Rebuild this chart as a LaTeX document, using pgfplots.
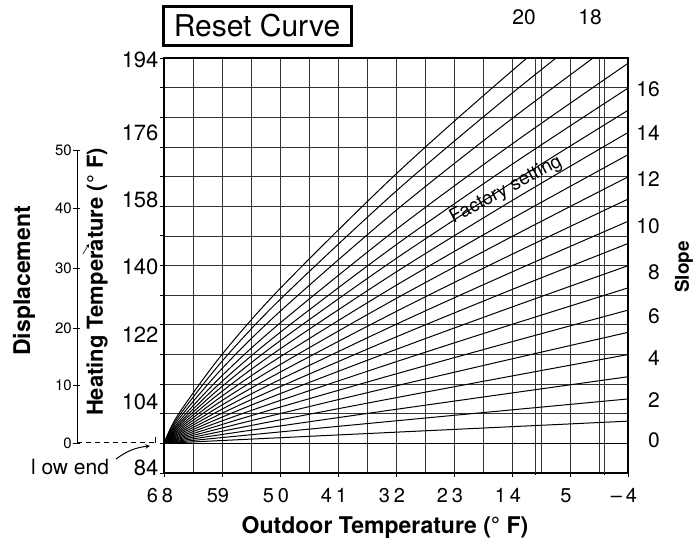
\documentclass[border=0pt]{standalone}
\usepackage{fontspec}
\setmainfont{TeX Gyre Heros}
\usepackage{pgfplots}
\pgfplotsset{compat=1.18}
\begin{document}
\begin{tikzpicture}
\useasboundingbox (0,0) rectangle (694pt,543pt);
\begin{axis}[
  at={(164pt,70pt)}, anchor=south west,
  scale only axis, width=464pt, height=415pt,
  xmin=-4, xmax=68, x dir=reverse,
  ymin=0, ymax=14,
  axis line style={line width=1.5pt},
  tick pos=left, tick align=outside,
  major tick length=4pt, minor tick length=0pt,
  tick style={line width=0.8pt, black},
  xtick={68,59,50,41,32,23,14,5,-4},
  xticklabels={6\hspace{4pt}8,59,5\hspace{4pt}0,4\hspace{4pt}1,3\hspace{4pt}2,2\hspace{4pt}3,1\hspace{4pt}4,5,–\hspace{4pt}4},
  minor xtick={63.5,54.5,45.5,36.5,27.5,18.5,9.5,0.5},
  extra x ticks={10.4,-0.4},
  extra x tick labels={},
  extra x tick style={grid=major, major tick length=2pt},
  ytick={0,1,...,14},
  yticklabels={},
  extra y ticks={0.17,2.40,4.66,6.95,9.21,11.47,13.93},
  extra y tick labels={84,104,122,140,158,176,194},
  extra y tick style={major tick length=0pt, grid=none},
  xmajorgrids, xminorgrids, ymajorgrids,
  grid style={line width=0.7pt, black!80},
  minor grid style={line width=0.7pt, black!80},
  xticklabel style={font=\fontsize{20}{22}\selectfont, yshift=-8pt, xshift=-4pt},
  yticklabel style={font=\fontsize{22}{24}\selectfont, xshift=-2pt},
  rc/.style={black, solid, line width=1pt, mark=none, smooth},
]
% slope 0
\addplot[rc] coordinates {(68,1) (-4,1)};
% slope 1
\addplot[rc] coordinates {(68,1)(65.84,1.023)(59,1.096)(50,1.190)(32,1.377)(14,1.563)(-4,1.749)};
% slope 2
\addplot[rc] coordinates {(68,1)(65.84,1.048)(59,1.195)(50,1.385)(32,1.760)(14,2.130)(-4,2.498)};
% slope 3
\addplot[rc] coordinates {(68,1)(65.84,1.075)(59,1.299)(50,1.586)(32,2.147)(14,2.700)(-4,3.247)};
% slope 4
\addplot[rc] coordinates {(68,1)(65.84,1.103)(59,1.407)(50,1.792)(32,2.540)(14,3.273)(-4,3.996)};
% slope 5
\addplot[rc] coordinates {(68,1)(65.84,1.134)(59,1.519)(50,2.003)(32,2.939)(14,3.850)(-4,4.745)};
% slope 6
\addplot[rc] coordinates {(68,1)(65.84,1.166)(59,1.636)(50,2.221)(32,3.343)(14,4.429)(-4,5.494)};
% slope 7
\addplot[rc] coordinates {(68,1)(65.84,1.201)(59,1.758)(50,2.444)(32,3.752)(14,5.013)(-4,6.243)};
% slope 8
\addplot[rc] coordinates {(68,1)(65.84,1.238)(59,1.884)(50,2.674)(32,4.167)(14,5.599)(-4,6.992)};
% slope 9
\addplot[rc] coordinates {(68,1)(65.84,1.277)(59,2.016)(50,2.909)(32,4.588)(14,6.189)(-4,7.741)};
% slope 10
\addplot[rc] coordinates {(68,1)(65.84,1.319)(59,2.153)(50,3.151)(32,5.014)(14,6.782)(-4,8.490)};
% slope 11
\addplot[rc] coordinates {(68,1)(65.84,1.363)(59,2.294)(50,3.399)(32,5.446)(14,7.378)(-4,9.239)};
% slope 12
\addplot[rc] coordinates {(68,1)(65.84,1.411)(59,2.442)(50,3.654)(32,5.884)(14,7.977)(-4,9.988)};
% slope 13
\addplot[rc] coordinates {(68,1)(65.84,1.461)(59,2.595)(50,3.915)(32,6.328)(14,8.581)(-4,10.737)};
% slope 14
\addplot[rc] coordinates {(68,1)(65.84,1.514)(59,2.753)(50,4.184)(32,6.778)(14,9.188)(-4,11.486)};
% slope 15
\addplot[rc] coordinates {(68,1)(65.84,1.571)(59,2.918)(50,4.458)(32,7.233)(14,9.798)(-4,12.235)};
% slope 16
\addplot[rc] coordinates {(68,1)(65.84,1.630)(59,3.089)(50,4.740)(32,7.696)(14,10.411)(-4,12.984)};
% slope 17
\addplot[rc] coordinates {(68,1)(65.84,1.697)(59,3.282)(50,5.056)(32,8.211)(14,11.097)(-4,13.820)};
% slope 18
\addplot[rc] coordinates {(68,1)(65.84,1.782)(59,3.522)(50,5.450)(32,8.857)(14,11.955)(-4,14.870)};
% slope 19
\addplot[rc] coordinates {(68,1)(65.84,1.871)(59,3.767)(50,5.850)(32,9.505)(14,12.810)(-4,15.910)};
% slope 20
\addplot[rc] coordinates {(68,1)(65.84,1.957)(59,3.998)(50,6.219)(32,10.085)(14,13.567)(-4,16.820)};
\node[rotate=28, font=\fontsize{19}{21}\selectfont] at (axis cs:14.93,9.55) {Factory setting};
\end{axis}
% title box
\node[draw, line width=3pt, minimum width=188pt, minimum height=39pt, inner sep=0pt,
      font=\fontsize{30}{34}\selectfont] at (257pt,517pt) {Reset Curve};
% axis titles
\node[font=\fontsize{23}{26}\selectfont\bfseries] at (385pt,16pt) {Outdoor Temperature (° F)};
\node[rotate=90, font=\fontsize{22}{25}\selectfont\bfseries] at (97pt,261pt) {Heating Temperature (° F)};
\node[rotate=90, font=\fontsize{23}{26}\selectfont\bfseries] at (24pt,262pt) {Displacement};
\node[rotate=90, font=\fontsize{19}{22}\selectfont\bfseries] at (684pt,276pt) {Slope};
% top labels
\node[font=\fontsize{21}{24}\selectfont] at (524pt,526pt) {20};
\node[font=\fontsize{21}{24}\selectfont] at (590pt,526pt) {18};
% slope labels
\foreach \lab/\yy in {16/454,14/410,12/364,10/317,8/271,6/227,4/185,2/143,0/103}
  \node[anchor=east, font=\fontsize{21}{24}\selectfont, inner sep=0pt] at (660pt,\yy pt) {\lab};
% displacement scale
\draw[line width=1pt] (77pt,100pt) -- (77pt,393pt);
\foreach \lab/\yy in {0/100,10/158,20/215,30/275,40/335,50/393}{
  \draw[line width=0.8pt] (73pt,\yy pt) -- (80pt,\yy pt);
  \node[anchor=east, font=\fontsize{15}{17}\selectfont, inner sep=0pt] at (72pt,\yy pt) {\lab};
}
\draw[line width=1pt, dash pattern=on 5pt off 4pt] (77pt,100pt) -- (155pt,100pt);
\draw[line width=1pt] (155pt,100pt) -- (155pt,106pt);
\node[font=\fontsize{21}{24}\selectfont] at (70pt,76pt) {l ow end};
\draw[->, >=stealth, line width=1pt] (116pt,84pt) to[bend left=15] (150pt,97pt);
\draw[->, >=stealth, line width=0.6pt] (83pt,289pt) -- (89pt,299pt);
\end{tikzpicture}
\end{document}
